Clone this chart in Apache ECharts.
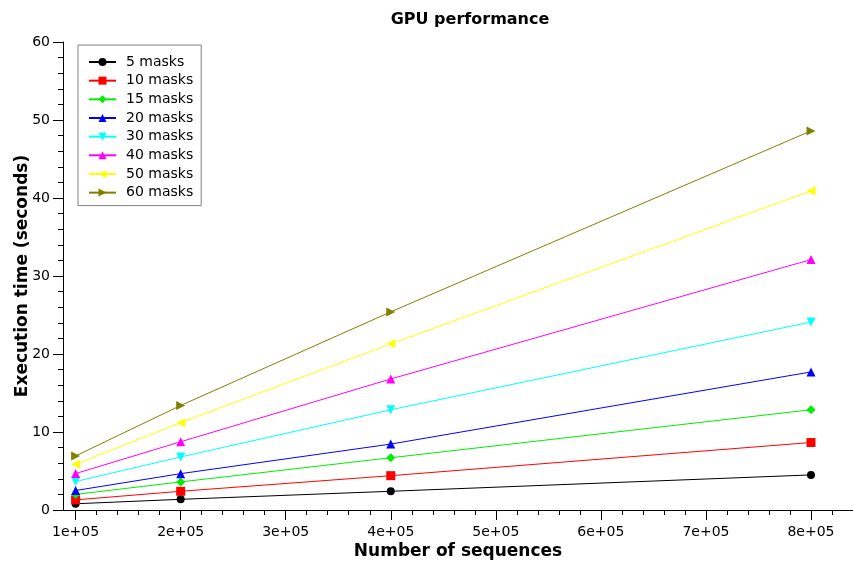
<!DOCTYPE html>
<html>
<head>
<meta charset="utf-8">
<script src="https://cdn.jsdelivr.net/npm/echarts@6/dist/echarts.min.js"></script>
<style>
  html, body { margin: 0; padding: 0; background: #fff; }
  #main { width: 853px; height: 565px; }
</style>
</head>
<body>
<div id="main"></div>
<script>
// x values (number of sequences)
const seqCounts = [100000, 200000, 400000, 800000];
const xTicks = [100000, 200000, 300000, 400000, 500000, 600000, 700000, 800000];

// execution time (seconds) per mask count
const masks5 = [0.8, 1.37, 2.4, 4.5];
const masks10 = [1.3, 2.4, 4.4, 8.65];
const masks15 = [2.0, 3.6, 6.7, 12.85];
const masks20 = [2.5, 4.66, 8.45, 17.7];
const masks30 = [3.65, 6.8, 12.85, 24.1];
const masks40 = [4.67, 8.75, 16.8, 32.1];
const masks50 = [5.85, 11.2, 21.3, 40.9];
const masks60 = [6.93, 13.4, 25.4, 48.6];

const seriesNames = ['5 masks', '10 masks', '15 masks', '20 masks', '30 masks', '40 masks', '50 masks', '60 masks'];
const seriesData = [masks5, masks10, masks15, masks20, masks30, masks40, masks50, masks60];
const colors = ['#000000', '#ff0000', '#00ee00', '#0000ff', '#00ffff', '#ff00ff', '#ffff00', '#808000'];
const symbols = ['circle', 'rect', 'diamond', 'triangle', 'triangle', 'triangle', 'triangle', 'triangle'];
const rotations = [0, 0, 0, 0, 180, 0, 90, -90];
const sizes = [8, 9, 9, 9, 9, 9, 9, 9];

// minor ticks on x every 2e4
const xMinor = [];
for (let v = 100000; v <= 840000; v += 20000) xMinor.push(v);

const font = 'DejaVu Sans';
const chart = echarts.init(document.getElementById('main'), null, { renderer: 'canvas' });

const series = seriesNames.map((name, i) => ({
  name: name,
  type: 'line',
  data: seqCounts.map((x, j) => [x, seriesData[i][j]]),
  symbol: symbols[i],
  symbolSize: sizes[i],
  symbolRotate: rotations[i],
  showAllSymbol: true,
  color: colors[i],
  lineStyle: { width: 1, color: colors[i] },
  itemStyle: { color: colors[i] },
  animation: false,
  z: 10
}));

chart.setOption({
  animation: false,
  textStyle: { fontFamily: font },
  title: {
    text: 'GPU performance',
    left: 465,
    top: 7,
    textAlign: 'center',
    textStyle: { fontFamily: font, fontSize: 16, fontWeight: 'bold', color: '#000' }
  },
  legend: {
    orient: 'vertical',
    left: 78,
    top: 45,
    data: seriesNames,
    borderColor: '#808080',
    borderWidth: 1,
    padding: [10, 8, 6, 10],
    itemWidth: 27,
    itemHeight: 10,
    itemGap: 4.66,
    textStyle: { fontFamily: font, fontSize: 14, color: '#000', lineHeight: 14, padding: [0, 0, 0, 5] }
  },
  grid: { left: 63, right: 0, top: 42, bottom: 55, containLabel: false, outerBoundsMode: 'none' },
  xAxis: [{
    type: 'value',
    min: 88000,
    max: 840000,
    name: 'Number of sequences',
    nameLocation: 'middle',
    nameGap: 33,
    nameMoveOverlap: false,
    nameTextStyle: { fontFamily: font, fontSize: 17, fontWeight: 'bold', color: '#000' },
    axisLine: { show: true, lineStyle: { color: '#000', width: 1 } },
    axisTick: { show: true, length: 10, lineStyle: { color: '#000', width: 1 }, customValues: xTicks },
    axisLabel: {
      customValues: xTicks,
      margin: 15,
      fontFamily: font,
      fontSize: 14,
      color: '#000',
      formatter: v => (v / 100000) + 'e+05'
    },
    splitLine: { show: false }
  }, {
    type: 'value',
    min: 88000,
    max: 840000,
    position: 'bottom',
    axisLine: { show: false },
    axisTick: { show: true, length: 5, lineStyle: { color: '#000' }, customValues: xMinor },
    axisLabel: { show: false },
    splitLine: { show: false }
  }],
  yAxis: {
    type: 'value',
    min: 0,
    max: 60,
    interval: 10,
    name: 'Execution time (seconds)',
    nameLocation: 'middle',
    nameGap: 32,
    nameMoveOverlap: false,
    nameTextStyle: { fontFamily: font, fontSize: 17, fontWeight: 'bold', color: '#000' },
    axisLine: { show: true, lineStyle: { color: '#000', width: 1 } },
    axisTick: { show: true, inside: false, length: 10, lineStyle: { color: '#000', width: 1 } },
    minorTick: { show: true, splitNumber: 5, length: 5, lineStyle: { color: '#000' } },
    axisLabel: { margin: 13, fontFamily: font, fontSize: 14, color: '#000' },
    splitLine: { show: false }
  },
  series: series
});
</script>
</body>
</html>
